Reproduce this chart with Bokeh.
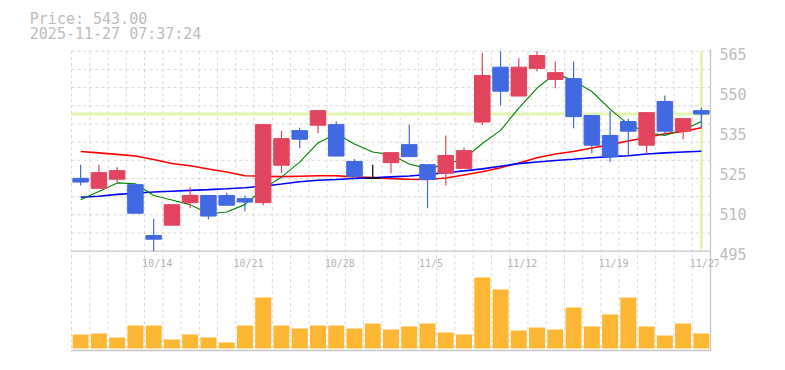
from bokeh.plotting import figure
from bokeh.models import Range1d, FixedTicker, ColumnDataSource
from bokeh.core.properties import value
from bokeh.embed import file_html
from bokeh.resources import INLINE

# ---------------- data ----------------
dates = ["10/7", "10/8", "10/9", "10/10", "10/14", "10/15", "10/16", "10/17",
         "10/20", "10/21", "10/22", "10/23", "10/24", "10/27", "10/28", "10/29",
         "10/30", "10/31", "11/4", "11/5", "11/6", "11/7", "11/10", "11/11",
         "11/12", "11/13", "11/14", "11/17", "11/18", "11/19", "11/20", "11/21",
         "11/25", "11/26", "11/27"]
open_ = [520.5, 517.0, 520.2, 518.3, 500.5, 504.1, 512.0, 514.5, 514.5, 513.4,
         512.0, 525.1, 537.2, 539.1, 539.3, 526.4, 520.6, 526.0, 532.3, 525.3,
         522.3, 524.0, 540.2, 559.4, 549.3, 559.0, 555.1, 555.4, 542.5, 535.5,
         540.4, 532.1, 547.4, 537.0, 544.2]
high = [525.3, 525.3, 524.4, 518.3, 506.3, 511.3, 517.4, 514.5, 515.5, 514.5,
        539.3, 537.2, 538.2, 544.2, 540.4, 527.3, 525.3, 529.5, 539.3, 525.3,
        535.5, 531.3, 564.5, 565.0, 562.5, 565.0, 561.4, 561.4, 542.5, 544.2,
        541.4, 543.5, 549.5, 541.4, 545.3]
low = [518.0, 517.0, 519.2, 508.3, 495.0, 504.1, 510.0, 506.2, 511.1, 509.0,
       511.1, 522.3, 531.0, 536.3, 528.3, 520.3, 520.6, 522.3, 528.1, 510.0,
       518.0, 524.0, 539.2, 546.0, 549.3, 557.9, 552.0, 538.0, 529.3, 526.2,
       528.5, 529.1, 535.3, 534.2, 538.0]
close = [519.2, 522.5, 523.2, 508.3, 499.2, 511.3, 514.5, 507.3, 511.1, 512.2,
         539.3, 534.4, 534.2, 544.2, 528.3, 521.2, 520.6, 529.5, 528.1, 520.1,
         528.5, 530.2, 556.5, 551.0, 559.4, 563.5, 557.5, 542.1, 532.1, 528.1,
         537.0, 543.5, 537.0, 541.4, 543.0]
ma_short = [513.0, 515.9, 518.9, 518.6, 514.5, 512.9, 511.3, 508.1, 508.7, 511.3,
            516.9, 520.9, 526.2, 532.9, 536.1, 532.5, 529.7, 528.8, 525.5, 523.9,
            525.4, 527.3, 532.7, 537.3, 545.1, 552.1, 557.2, 554.7, 550.9, 544.7,
            539.4, 536.6, 535.5, 537.4, 540.4]
ma_mid = [529.9, 529.4, 528.9, 528.3, 527.1, 525.7, 524.9, 523.8, 522.7, 521.4,
          521.25, 521.1, 521.25, 521.4, 521.4, 521.0, 520.8, 520.4, 520.2, 520.1,
          520.6, 521.7, 522.8, 524.2, 525.9, 527.7, 529.0, 529.9, 531.1, 532.3,
          533.6, 534.8, 536.1, 536.9, 538.2]
ma_long = [513.9, 514.25, 514.9, 515.3, 515.7, 516.0, 516.3, 516.55, 516.85, 517.2,
           517.75, 518.5, 519.3, 519.85, 520.1, 520.45, 520.7, 521.0, 521.3, 521.85,
           522.45, 523.1, 523.8, 524.75, 525.65, 526.2, 526.75, 527.2, 527.7, 528.1,
           528.4, 529.0, 529.4, 529.7, 530.0]
volume = [140, 150, 110, 230, 230, 90, 140, 110, 60, 230,
          510, 230, 200, 230, 230, 200, 250, 190, 220, 250,
          160, 140, 710, 590, 180, 210, 190, 410, 220, 340,
          510, 220, 130, 250, 150]
ytick_values = [565, 551, 537, 523, 509, 495]
ytick_labels = ["565", "550", "535", "525", "510", "495"]
xtick_every = 5
timestamp = "2025-11-27 07:37:24"

# ---------------- layout (page pixels) ----------------
n = len(dates)
FRAME_LEFT_PX, FRAME_TOP_PX = 0, 0
FRAME_W, FRAME_H = 718, 356
CELL_LEFT_PX, CELL_RIGHT_PX = 71.0, 710.0
PRICE_TOP_PX, PRICE_BOTTOM_PX = 50.7, 250.7
PRICE_MAX, PRICE_MIN = 565.0, 495.0
VOL_BASE_PX, PANE_BOTTOM_PX = 348.0, 350.0
VOL_PER_PX = 10.0
GRID_ROWS = 11
LABEL_DY_PX = 2.3

px_per_x = (CELL_RIGHT_PX - CELL_LEFT_PX) / n
px_per_price = (PRICE_BOTTOM_PX - PRICE_TOP_PX) / (PRICE_MAX - PRICE_MIN)
x_start = -0.5 - (CELL_LEFT_PX - FRAME_LEFT_PX) / px_per_x
x_end = x_start + FRAME_W / px_per_x
y_end = PRICE_MAX + (PRICE_TOP_PX - FRAME_TOP_PX) / px_per_price
y_start = y_end - FRAME_H / px_per_price
v_start = -(FRAME_TOP_PX + FRAME_H - VOL_BASE_PX) * VOL_PER_PX
v_end = v_start + FRAME_H * VOL_PER_PX


def px2x(px):
    return x_start + (px - FRAME_LEFT_PX) / px_per_x


def px2y(py):
    return y_end - (py - FRAME_TOP_PX) / px_per_price


RED, BLUE, DOJI = "#e2445e", "#4169e1", "#000000"
GRID = "#d9d9d9"
FRAME_LINE = "#c4c4c4"
PRICE_LINE = "#e3f5b0"
TEXT = "#bdbdbd"
MONO = value("DejaVu Sans Mono")

p = figure(frame_width=FRAME_W, frame_height=FRAME_H,
           x_range=Range1d(x_start, x_end), y_range=Range1d(y_start, y_end),
           x_axis_location=None, y_axis_location="right",
           toolbar_location=None, output_backend="svg",
           min_border_left=0, min_border_top=0, min_border_bottom=0,
           min_border_right=40, outline_line_color=None,
           background_fill_color="white", border_fill_color="white")
p.extra_y_ranges = {"vol": Range1d(v_start, v_end)}
for g in p.grid:
    g.visible = False

# grid
bottom_y = px2y(PANE_BOTTOM_PX)
gy = [PRICE_MAX - k * (PRICE_MAX - PRICE_MIN) / GRID_ROWS for k in range(GRID_ROWS)]
p.segment(x0=[-0.5] * len(gy), x1=[n - 0.5] * len(gy), y0=gy, y1=gy,
          line_color=GRID, line_width=1, line_dash="3 3")
gx = [i - 0.5 for i in range(n)]
p.segment(x0=gx, x1=gx, y0=[PRICE_MAX] * n, y1=[bottom_y] * n,
          line_color=GRID, line_width=1, line_dash="3 3")

# frame lines
p.segment(x0=[-0.5, -0.5, n - 0.5], x1=[n - 0.5, n - 0.5, n - 0.5],
          y0=[PRICE_MIN, bottom_y, PRICE_MAX + 0.7], y1=[PRICE_MIN, bottom_y, bottom_y],
          line_color=FRAME_LINE, line_width=1.3)

# current price lines
last = close[-1]
p.segment(x0=[-0.5], x1=[n - 0.5], y0=[last], y1=[last], line_color=PRICE_LINE, line_width=3)
p.segment(x0=[n - 1], x1=[n - 1], y0=[PRICE_MAX], y1=[PRICE_MIN + 0.7], line_color=PRICE_LINE, line_width=3)

xs = list(range(n))
p.line(xs, ma_mid, line_color="#ff0000", line_width=1.6)
p.line(xs, ma_long, line_color="#0000ff", line_width=1.6)
p.line(xs, ma_short, line_color="#008000", line_width=1.1)

colors = [RED if c > o else (BLUE if c < o else DOJI) for o, c in zip(open_, close)]
src = ColumnDataSource(dict(x=xs, o=open_, h=high, l=low, c=close,
                            top=[max(o, c) for o, c in zip(open_, close)],
                            bot=[min(o, c) for o, c in zip(open_, close)],
                            color=colors, vol=volume))
p.segment(x0="x", x1="x", y0="h", y1="l", line_color="color", line_width=1.2, source=src)
p.vbar(x="x", width=15.5 / px_per_x, top="top", bottom="bot", fill_color="color",
       line_color="color", line_width=1, source=src)

# volume
p.vbar(x="x", width=16 / px_per_x, top="vol", bottom=0, y_range_name="vol",
       fill_color="#fdb735", line_color=None, source=src)

# date labels
lab_idx = list(range(xtick_every - 1, n, xtick_every))
p.text(x=lab_idx, y=[px2y(262.5)] * len(lab_idx), text=[dates[i] for i in lab_idx],
       x_offset=3.5, text_align="center", text_baseline="middle",
       text_font=MONO, text_font_size="10px", text_color="#b3b3b3")

# header
p.text(x=[px2x(29.3)] * 2, y=[px2y(18.3), px2y(33.2)],
       text=[f"Price: {last:.2f}", timestamp], text_align="left",
       text_baseline="middle", text_font=MONO, text_font_size="15px",
       text_color=TEXT)

# right axis
ax = p.yaxis[0]
ticks = [v - LABEL_DY_PX / px_per_price for v in ytick_values]
ax.ticker = FixedTicker(ticks=ticks)
ax.major_label_overrides = {t: s for t, s in zip(ticks, ytick_labels)}
ax.axis_line_color = None
ax.major_tick_line_color = None
ax.minor_tick_line_color = None
ax.major_tick_out = 0
ax.major_label_standoff = 1
ax.major_label_text_font = "DejaVu Sans Mono"
ax.major_label_text_font_size = "15px"
ax.major_label_text_color = TEXT

open("out.html", "w").write(file_html(p, INLINE))
